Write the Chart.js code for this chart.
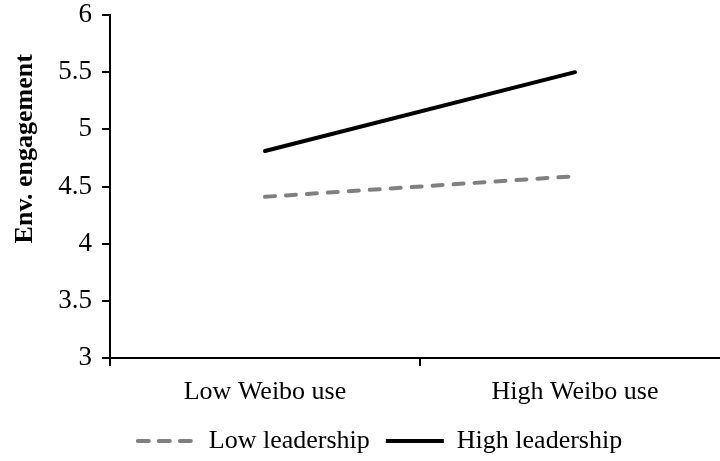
<!DOCTYPE html>
<html lang="en">

<head>
    <meta charset="UTF-8">
    <title>Env. engagement</title>
    <script src="https://cdn.jsdelivr.net/npm/chart.js"></script>
    <style>
        body { margin: 0; overflow: hidden; background: #fff; }
        .wrap { width: 730px; height: 461px; }
    </style>
</head>

<body>
    <div class="wrap">
        <canvas id="myChart"></canvas>
    </div>

    <script>
        const categories = ['Low Weibo use', 'High Weibo use'];
        const lowLeadership = [4.41, 4.59];
        const highLeadership = [4.81, 5.50];
        const yTicks = [3, 3.5, 4, 4.5, 5, 5.5, 6];
        const seriesNames = ['Low leadership', 'High leadership'];
        const yTitle = 'Env. engagement';

        const serif = 'Liberation Serif';

        // rotated y title, sits a bit above the middle like the original
        const yTitlePlugin = {
            id: 'yTitle',
            afterDraw(chart) {
                const ctx = chart.ctx;
                const area = chart.chartArea;
                ctx.save();
                ctx.translate(25, area.top + (area.bottom - area.top) * 0.39);
                ctx.rotate(-Math.PI / 2);
                ctx.font = 'bold 26px ' + serif;
                ctx.fillStyle = '#000';
                ctx.textAlign = 'center';
                ctx.textBaseline = 'middle';
                ctx.fillText(yTitle, 0, 0);
                ctx.restore();
            }
        };

        // legend sits a little right of the canvas middle and lower in the original
        const legendShift = {
            id: 'legendShift',
            afterLayout(chart) {
                chart.legend.left += 15;
                chart.legend.right += 15;
                chart.legend.top += 3;
                chart.legend.bottom += 3;
            }
        };

        const ctx = document.getElementById('myChart');
        new Chart(ctx, {
            type: 'line',
            data: {
                labels: categories,
                datasets: [{
                    label: seriesNames[0],
                    data: lowLeadership,
                    borderColor: '#808080',
                    backgroundColor: '#808080',
                    borderWidth: 4,
                    borderDash: [10, 11],
                    borderCapStyle: 'round',
                    pointRadius: 0,
                    tension: 0
                }, {
                    label: seriesNames[1],
                    data: highLeadership,
                    borderColor: '#000000',
                    backgroundColor: '#000000',
                    borderWidth: 4,
                    borderCapStyle: 'round',
                    pointRadius: 0,
                    tension: 0
                }]
            },
            options: {
                responsive: true,
                maintainAspectRatio: false,
                animation: false,
                layout: { padding: { top: 15, right: 0, bottom: 0, left: 0 } },
                plugins: {
                    tooltip: { enabled: false },
                    legend: {
                        position: 'bottom',
                        labels: {
                            boxWidth: 58,
                            boxHeight: 0,
                            padding: 16,
                            color: '#000',
                            font: { family: serif, size: 26 }
                        }
                    }
                },
                scales: {
                    x: {
                        offset: true,
                        grid: {
                            offset: true,
                            drawOnChartArea: false,
                            color: '#000',
                            lineWidth: 2,
                            tickLength: 8
                        },
                        border: { color: '#000', width: 2 },
                        ticks: {
                            color: '#000',
                            padding: 11,
                            maxRotation: 0,
                            font: { family: serif, size: 26 }
                        },
                        afterFit(scale) { scale.height = 51; }
                    },
                    y: {
                        min: 3,
                        max: 6,
                        afterBuildTicks(scale) {
                            scale.ticks = yTicks.map(v => ({ value: v }));
                        },
                        grid: {
                            drawOnChartArea: false,
                            color: '#000',
                            lineWidth: 2,
                            tickLength: 8
                        },
                        border: { color: '#000', width: 2 },
                        ticks: {
                            color: '#000',
                            padding: 10,
                            font: { family: serif, size: 27 },
                            callback: v => String(v)
                        },
                        afterFit(scale) {
                            scale.width = 110;
                            scale.paddingTop = 0;
                            scale.paddingBottom = 0;
                        }
                    }
                }
            },
            plugins: [yTitlePlugin, legendShift]
        });
    </script>
</body>

</html>
